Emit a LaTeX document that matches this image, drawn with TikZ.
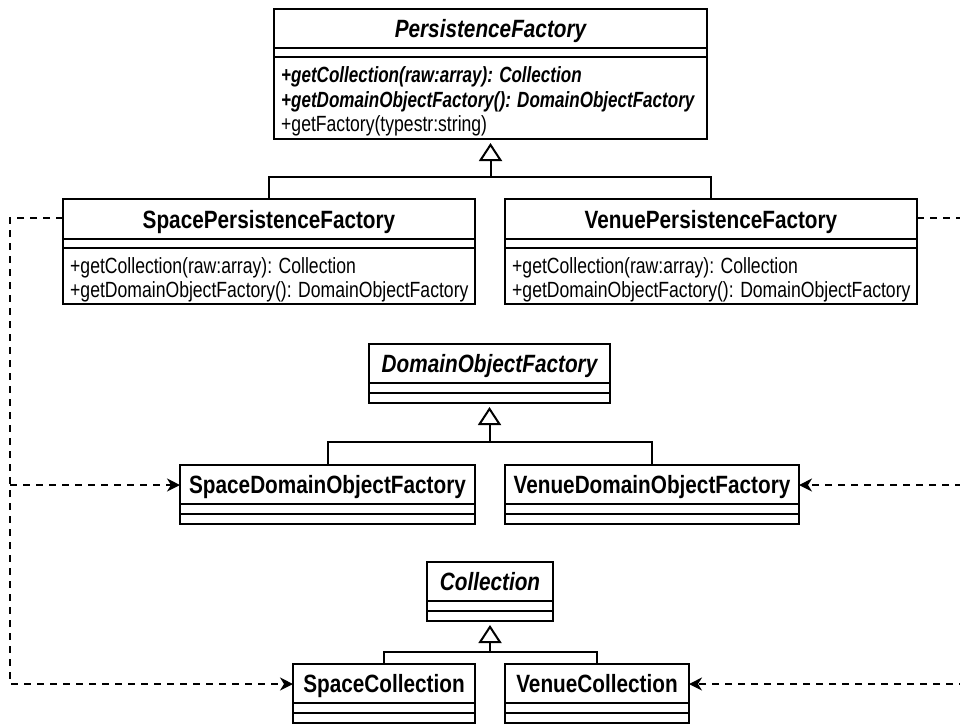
\documentclass[tikz,border=0pt]{standalone}
\usepackage{fontspec}
\setmainfont{Liberation Sans}
\newfontfamily\titlefont[FakeStretch=0.83]{Liberation Sans}
\newfontfamily\methfont[FakeStretch=0.80]{Liberation Sans}
\newfontfamily\imethfont[FakeStretch=0.775]{Liberation Sans}
\usetikzlibrary{arrows.meta}
\tikzset{
  box/.style={draw, line width=1.3pt, inner sep=0pt, outer sep=0pt},
  divider/.style={line width=1.3pt},
  ttl/.style={anchor=base, inner sep=0pt, font=\titlefont\fontsize{25}{27}\selectfont\bfseries},
  ittl/.style={ttl, font=\titlefont\fontsize{25}{27}\selectfont\bfseries\itshape},
  meth/.style={anchor=base west, inner sep=0pt, font=\methfont\fontsize{22}{25}\selectfont},
  imeth/.style={meth, font=\imethfont\fontsize{22}{25}\selectfont\bfseries\itshape},
  conn/.style={line width=2pt},
  gen/.style={conn, -{Triangle[open, length=18pt, width=23pt, line width=2pt]}, shorten >=4pt},
  dep/.style={line width=1.5pt, dash pattern=on 7pt off 6pt},
  deparrow/.style={dep, -{Stealth[length=13pt, width=13pt, inset=4pt]}}
}
\newcommand{\classbox}[7]{%
  \node[box, minimum width={#4-#2}, minimum height={#5-#3}] (#1) at ({(#2+#4)/2},{(#3+#5)/2}) {};
  \draw[divider] (#1.west |- 0,#6) -- (#1.east |- 0,#6);
  \draw[divider] (#1.west |- 0,#7) -- (#1.east |- 0,#7);
}
\begin{document}
\begin{tikzpicture}[x=1pt, y=-1pt]
\useasboundingbox (0,0) rectangle (960,724);

% PersistenceFactory
\classbox{pf}{274}{9}{707}{139}{48}{57}
\node[ittl] (pf-t) at (490.5,37) {PersistenceFactory};
\node[imeth] (pf-m1) at (281,82) {+getCollection(raw:array): Collection};
\node[imeth] (pf-m2) at (281,107) {+getDomainObjectFactory(): DomainObjectFactory};
\node[meth] (pf-m3) at (281,131) {+getFactory(typestr:string)};

% SpacePersistenceFactory
\classbox{spf}{63}{199}{475}{304}{239}{248}
\node[ttl] (spf-t) at (269,228) {SpacePersistenceFactory};
\node[meth] (spf-m1) at (70,273) {+getCollection(raw:array): Collection};
\node[meth] (spf-m2) at (70,297) {+getDomainObjectFactory(): DomainObjectFactory};

% VenuePersistenceFactory
\classbox{vpf}{505}{199}{917}{304}{239}{248}
\node[ttl] (vpf-t) at (711,228) {VenuePersistenceFactory};
\node[meth] (vpf-m1) at (512,273) {+getCollection(raw:array): Collection};
\node[meth] (vpf-m2) at (512,297) {+getDomainObjectFactory(): DomainObjectFactory};

% DomainObjectFactory
\classbox{dof}{369}{344}{610}{403}{383}{393}
\node[ittl] (dof-t) at (489.5,372) {DomainObjectFactory};
\classbox{sdof}{180}{465}{475}{524}{504}{514}
\node[ttl] (sdof-t) at (327.5,493) {SpaceDomainObjectFactory};
\classbox{vdof}{505}{465}{799}{524}{504}{514}
\node[ttl] (vdof-t) at (652,493) {VenueDomainObjectFactory};

% Collection
\classbox{col}{427}{562}{553}{621}{601}{611}
\node[ittl] (col-t) at (490,590) {Collection};
\classbox{sc}{293}{664}{475}{723}{703}{713}
\node[ttl] (sc-t) at (384,692) {SpaceCollection};
\classbox{vc}{505}{664}{689}{723}{703}{713}
\node[ttl] (vc-t) at (597,692) {VenueCollection};

% generalisation connectors
\coordinate (pfj) at (490.5,177);
\draw[conn] (spf.north) |- (pfj) -| (vpf.north);
\draw[gen] (pfj) -- (pf.south);
\coordinate (dofj) at (489.5,442);
\draw[conn] (sdof.north) |- (dofj) -| (vdof.north);
\draw[gen] (dofj) -- (dof.south);
\coordinate (colj) at (490,652);
\draw[conn] (sc.north) |- (colj) -| (vc.north);
\draw[gen] (colj) -- (col.south);

% dependencies
\coordinate (L1) at (10,218);
\coordinate (L2) at (10,684);
\coordinate (L3) at (10,485);
\coordinate (R1) at (975,218);
\coordinate (R2) at (975,684);
\coordinate (R3) at (975,485);
\draw[deparrow] (L1 -| spf.west) -- (L1) -- (L2) -- (L2 -| sc.west);
\draw[deparrow] (L3) -- (L3 -| sdof.west);
\draw[deparrow] (R1 -| vpf.east) -- (R1) -- (R2) -- (R2 -| vc.east);
\draw[deparrow] (R3) -- (R3 -| vdof.east);
\end{tikzpicture}
\end{document}
